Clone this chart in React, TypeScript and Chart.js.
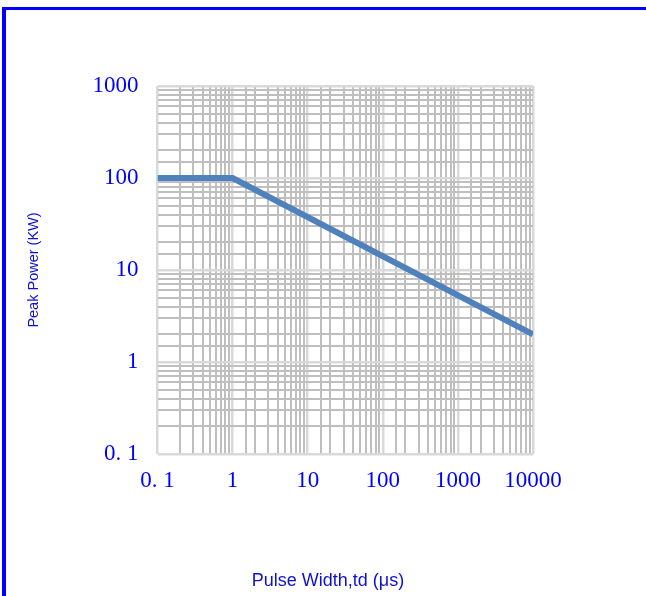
import React, { useEffect, useRef } from "react";
import { Chart, registerables } from "chart.js";

Chart.register(...registerables);

// ---- data ----
const pulseWidthUs = [0.1, 1, 10000];
const peakPowerKW = [100, 100, 2];

const xTickValues = [0.1, 1, 10, 100, 1000, 10000];
const xTickLabels = ["0. 1", "1", "10", "100", "1000", "10000"];
const yTickValues = [0.1, 1, 10, 100, 1000];
const yTickLabels = ["0. 1", "1", "10", "100", "1000"];

const xTitle = "Pulse Width,td (μs)";
const yTitle = "Peak Power (KW)";

const isDecade = (v: number) => {
  const l = Math.log10(v);
  return Math.abs(l - Math.round(l)) < 1e-6;
};

const labelFor = (v: number, values: number[], labels: string[]) => {
  if (!isDecade(v)) return "";
  const idx = values.findIndex((t) => Math.abs(Math.log10(t) - Math.log10(v)) < 1e-6);
  return idx >= 0 ? labels[idx] : "";
};

const gridColor = (ctx: any) =>
  ctx.tick && isDecade(ctx.tick.value) ? "#d9d9d9" : "#bfbfbf";
const gridWidth = (ctx: any) =>
  ctx.tick && isDecade(ctx.tick.value) ? 2.5 : 2;

const tickFont = { family: "'Liberation Serif', 'Times New Roman', serif", size: 23 };
const tickColor = "#0000ff";
const titleColor = "#1010d0";

export default function App() {
  const canvasRef = useRef<HTMLCanvasElement | null>(null);

  useEffect(() => {
    if (!canvasRef.current) return;
    const chart = new Chart(canvasRef.current, {
      type: "line",
      data: {
        datasets: [
          {
            data: pulseWidthUs.map((x, i) => ({ x, y: peakPowerKW[i] })),
            borderColor: "#4f81bd",
            borderWidth: 6,
            pointRadius: 0,
            fill: false,
            tension: 0,
            borderCapStyle: "butt",
          },
        ],
      },
      options: {
        animation: false,
        responsive: false,
        layout: { padding: { left: 0, top: 86, right: 113, bottom: 102 } },
        plugins: { legend: { display: false }, tooltip: { enabled: false } },
        scales: {
          x: {
            type: "logarithmic",
            min: 0.1,
            max: 10000,
            border: { display: false },
            grid: { color: gridColor, lineWidth: gridWidth, drawTicks: false },
            ticks: {
              autoSkip: false,
              maxRotation: 0,
              padding: 13,
              color: tickColor,
              font: tickFont,
              callback: (v: any) => labelFor(Number(v), xTickValues, xTickLabels),
            },
            afterFit: (scale: any) => {
              scale.height = 40;
            },
          },
          y: {
            type: "logarithmic",
            min: 0.1,
            max: 1000,
            border: { display: false },
            grid: { color: gridColor, lineWidth: gridWidth, drawTicks: false },
            ticks: {
              autoSkip: false,
              padding: 19,
              color: tickColor,
              font: tickFont,
              callback: (v: any) => labelFor(Number(v), yTickValues, yTickLabels),
            },
            afterFit: (scale: any) => {
              scale.width = 157.5;
            },
          },
        },
      },
    } as any);
    return () => chart.destroy();
  }, []);

  const titleFont = "'Liberation Sans', Arial, sans-serif";

  return (
    <div
      style={{
        position: "fixed",
        left: 0,
        top: 0,
        width: 646,
        height: 596,
        background: "#ffffff",
        overflow: "hidden",
      }}
    >
      <canvas
        ref={canvasRef}
        width={646}
        height={596}
        style={{ position: "absolute", left: 0, top: 0, width: 646, height: 596 }}
      />
      <div
        style={{
          position: "absolute",
          left: 2,
          top: 7,
          width: 644,
          height: 589,
          boxSizing: "border-box",
          borderTop: "3px solid #0000ff",
          borderLeft: "4px solid #0000ff",
          pointerEvents: "none",
        }}
      />
      <div
        style={{
          position: "absolute",
          left: 33,
          top: 270,
          transform: "translate(-50%, -50%) rotate(-90deg)",
          whiteSpace: "nowrap",
          fontFamily: titleFont,
          fontSize: 14.5,
          color: titleColor,
          lineHeight: 1,
        }}
      >
        {yTitle}
      </div>
      <div
        style={{
          position: "absolute",
          left: 328,
          top: 580,
          transform: "translate(-50%, -50%)",
          whiteSpace: "nowrap",
          fontFamily: titleFont,
          fontSize: 18,
          color: titleColor,
          lineHeight: 1,
        }}
      >
        {xTitle}
      </div>
    </div>
  );
}
